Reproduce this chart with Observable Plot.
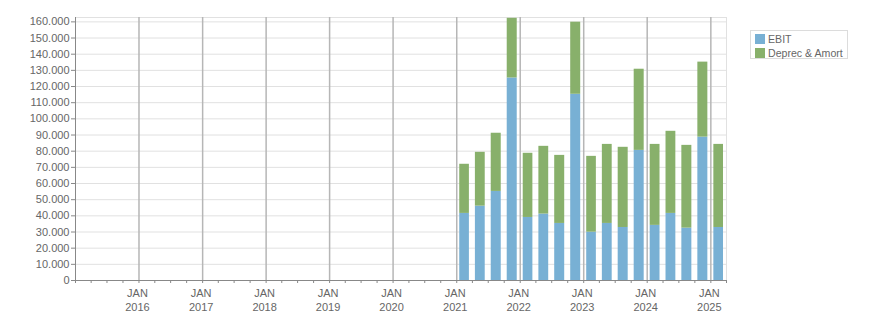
<!DOCTYPE html>
<html>
<head>
<meta charset="utf-8">
<script src="https://cdn.jsdelivr.net/npm/d3@7"></script>
<script src="https://cdn.jsdelivr.net/npm/@observablehq/plot@0.6"></script>
<style>
  html, body { margin: 0; padding: 0; background: #fff; }
  #wrap { position: relative; width: 876px; height: 313px; font-family: "Liberation Sans", Arial, sans-serif; }
  #legend { position: absolute; left: 750px; top: 30px; width: 96px; height: 27px; border: 1px solid #dcdcdc; font-size: 10.6px; color: #666; }
  .row { position: absolute; left: 4px; height: 10px; line-height: 10px; white-space: nowrap; }
  .sw { display: inline-block; width: 10px; height: 10px; vertical-align: top; margin-right: 3px; }
</style>
</head>
<body>
<div id="wrap"></div>
<script>
const quarters = ["2021-01-01","2021-04-01","2021-07-01","2021-10-01",
                  "2022-01-01","2022-04-01","2022-07-01","2022-10-01",
                  "2023-01-01","2023-04-01","2023-07-01","2023-10-01",
                  "2024-01-01","2024-04-01","2024-07-01","2024-10-01",
                  "2025-01-01"];
const ebit   = [41500, 46000, 55100, 125300, 39000, 41100, 35300, 115200, 29900, 35300, 32800, 80500, 34100, 41500, 32400, 88700, 32800];
const deprec = [30400, 33300, 36000, 36900, 39700, 41900, 42100, 44600, 46900, 48900, 49600, 50200, 50100, 50800, 51200, 46400, 51400];
const seriesNames = ["EBIT", "Deprec & Amort"];
const seriesColors = ["#78b0d4", "#88b06b"];
const yTickValues = d3.range(0, 160001, 10000);
const xStart = "2015-01-01", xEnd = "2025-04-01";
const yMax = 162700;

const rows = [];
quarters.forEach((q, i) => {
  const s = new Date(q);
  const e = d3.utcMonth.offset(s, 3);
  rows.push({start: s, end: e, y1: 0, y2: ebit[i], series: seriesNames[0]});
  rows.push({start: s, end: e, y1: ebit[i], y2: ebit[i] + deprec[i], series: seriesNames[1]});
});
const janTicks = d3.utcYear.range(new Date("2016-01-01"), new Date(xEnd));
const qTicks = d3.utcMonth.every(3).range(new Date(xStart), new Date("2025-04-02"));
const fmt = d => d3.format(",")(d).replace(/,/g, ".");

const chart = Plot.plot({
  width: 876, height: 313,
  marginLeft: 75, marginRight: 150, marginTop: 17, marginBottom: 33,
  style: {fontFamily: "'Liberation Sans', Arial, sans-serif", fontSize: "11px", color: "#666", background: "#fff"},
  x: {type: "utc", domain: [new Date(xStart), new Date(xEnd)], axis: null},
  y: {domain: [0, yMax], axis: null},
  color: {domain: seriesNames, range: seriesColors},
  marks: [
    Plot.gridY(yTickValues.filter(d => d > 0), {stroke: "#e1e1e1", strokeOpacity: 1}),
    Plot.ruleY([yMax], {stroke: "#e1e1e1"}),
    Plot.ruleX([new Date(xEnd)], {stroke: "#e1e1e1"}),
    Plot.gridX(janTicks, {stroke: "#b6b6b6", strokeOpacity: 1, strokeWidth: 1.5}),
    Plot.rect(rows, {x1: "start", x2: "end", y1: "y1", y2: "y2", fill: "series", insetLeft: 3, insetRight: 3}),
    Plot.ruleX([new Date(xStart)], {stroke: "#888"}),
    Plot.ruleY([0], {stroke: "#888"}),
    Plot.axisY(yTickValues, {tickSize: 4, tickPadding: 2, stroke: "#888", fill: "#666", tickFormat: fmt}),
    Plot.axisX(qTicks, {tickSize: 3, stroke: "#888", tickFormat: () => ""}),
    Plot.text(janTicks, {x: d => d, frameAnchor: "bottom", dy: 7, dx: -1.5, lineAnchor: "top", lineHeight: 1.25,
      text: d => "JAN\n" + d.getUTCFullYear(), fill: "#666"})
  ]
});
const wrap = document.getElementById("wrap");
wrap.appendChild(chart);
const legend = document.createElement("div");
legend.id = "legend";
seriesNames.forEach((n, i) => {
  const r = document.createElement("div");
  r.className = "row";
  r.style.top = (3 + i * 14) + "px";
  r.innerHTML = `<span class="sw" style="background:${seriesColors[i]}"></span>${n.replace("&", "&amp;")}`;
  legend.appendChild(r);
});
wrap.appendChild(legend);
</script>
</body>
</html>
